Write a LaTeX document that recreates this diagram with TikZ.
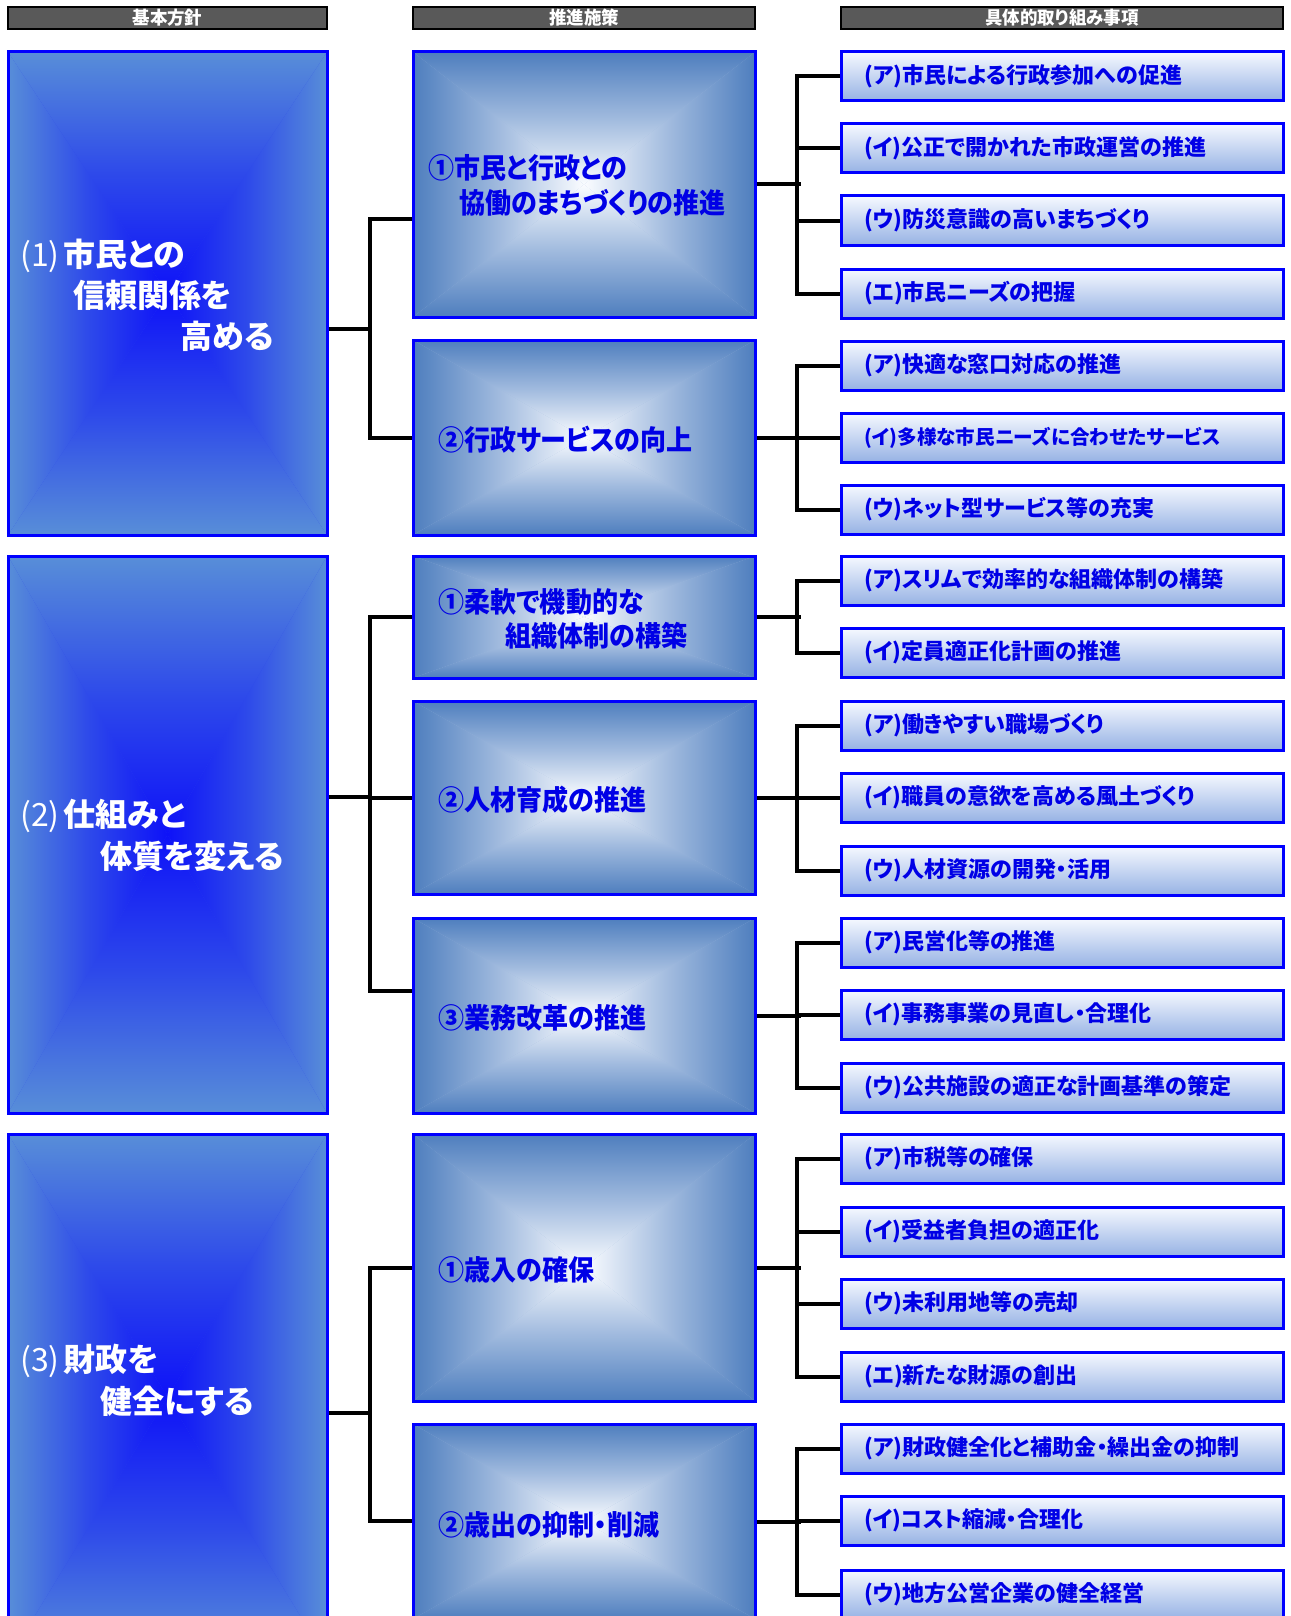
\documentclass[tikz,border=0pt]{standalone}
\usepackage{fontspec}
\setmainfont{Noto Sans CJK JP}[RawFeature=+palt]
\newfontfamily\jpmid{Noto Sans CJK JP}[RawFeature=+palt, FakeStretch=0.93]
\newfontfamily\jphead{Noto Sans CJK JP}[RawFeature=+palt, FakeStretch=0.97]
\usetikzlibrary{fit}
\definecolor{lE}{RGB}{88,142,216}
\definecolor{lM}{RGB}{46,74,234}
\definecolor{lC}{RGB}{14,18,248}
\definecolor{mE}{RGB}{78,126,190}
\definecolor{mM}{RGB}{160,186,222}
\definecolor{mC}{RGB}{250,252,255}
\definecolor{rT}{RGB}{246,249,255}
\definecolor{rB}{RGB}{150,178,228}
\definecolor{bdr}{RGB}{0,0,255}
\definecolor{txb}{RGB}{0,0,230}
\definecolor{hdr}{RGB}{89,89,89}
\newcommand\pgradbox[8]{%
  \fill[#7] (#2,#3) rectangle (#4,#5);
  \coordinate (#1-c) at ({(#2+#4)/2},{(#3+#5)/2});
  \shade[top color=#6,bottom color=#8,middle color=#7] (#2,#3) -- (#4,#3) -- (#1-c) -- cycle;
  \shade[top color=#8,bottom color=#6,middle color=#7] (#2,#5) -- (#4,#5) -- (#1-c) -- cycle;
  \shade[left color=#6,right color=#8,middle color=#7] (#2,#3) -- (#2,#5) -- (#1-c) -- cycle;
  \shade[left color=#8,right color=#6,middle color=#7] (#4,#3) -- (#4,#5) -- (#1-c) -- cycle;
  \node[draw=bdr, line width=3pt, inner sep=0pt, fit={(#2,#3) (#4,#5)}] (#1) {};
}
\begin{document}
\begin{tikzpicture}[x=1pt,y=-1pt,
  conn/.style={line width=4pt, black, line join=miter},
  hbar/.style={draw=black, line width=2.5pt, fill=hdr, inner sep=0pt},
  htext/.style={text=white, font=\jphead\fontsize{18}{18}\selectfont\bfseries, inner sep=0pt},
  rbox/.style={draw=bdr, line width=3pt, top color=rT, bottom color=rB, inner sep=0pt},
  ltext/.style={text=white, font=\fontsize{32}{32}\selectfont\bfseries, anchor=west, inner sep=0pt},
  mtext/.style={text=txb, font=\jpmid\fontsize{28}{28}\selectfont\bfseries, anchor=west, inner sep=0pt},
  rtext/.style={text=txb, font=\fontsize{22}{22}\selectfont\bfseries, anchor=west, inner sep=0pt}]
\useasboundingbox (0,0) rectangle (1290,1616);
\clip (0,0) rectangle (1290,1616);
\fill[white] (0,0) rectangle (1290,1616);

% headers
\node[hbar, fit={(8,7) (327,29)}] (H1) {};
\node[hbar, fit={(413,7) (755,29)}] (H2) {};
\node[hbar, fit={(841,7) (1283,29)}] (H3) {};
\node[htext] (h1t) at (H1.center) {基本方針};
\node[htext] (h2t) at (H2.center) {推進施策};
\node[htext] (h3t) at (H3.center) {具体的取り組み事項};

% left boxes
\pgradbox{L1}{8}{52}{327}{535}{lE}{lM}{lC}
\pgradbox{L2}{8}{556}{327}{1113}{lE}{lM}{lC}
\pgradbox{L3}{8}{1134}{327}{1660}{lE}{lM}{lC}

% middle boxes
\pgradbox{A1}{413}{52}{755}{317}{mE}{mM}{mC}
\pgradbox{A2}{413}{340}{755}{535}{mE}{mM}{mC}
\pgradbox{B1}{413}{556}{755}{678}{mE}{mM}{mC}
\pgradbox{B2}{413}{701}{755}{894}{mE}{mM}{mC}
\pgradbox{B3}{413}{918}{755}{1113}{mE}{mM}{mC}
\pgradbox{C1}{413}{1134}{755}{1401}{mE}{mM}{mC}
\pgradbox{C2}{413}{1424}{755}{1619}{mE}{mM}{mC}

% right boxes
\foreach \t/\s [count=\i] in {
  52/{(ア)市民による行政参加への促進},
  124/{(イ)公正で開かれた市政運営の推進},
  196/{(ウ)防災意識の高いまちづくり},
  269/{(エ)市民ニーズの把握},
  341/{(ア)快適な窓口対応の推進},
  413/{{\fontsize{19.6}{19.6}\selectfont(イ)多様な市民ニーズに合わせたサービス}},
  485/{(ウ)ネット型サービス等の充実},
  556/{(ア)スリムで効率的な組織体制の構築},
  628/{(イ)定員適正化計画の推進},
  701/{(ア)働きやすい職場づくり},
  773/{(イ)職員の意欲を高める風土づくり},
  846/{(ウ)人材資源の開発・活用},
  918/{(ア)民営化等の推進},
  990/{(イ)事務事業の見直し・合理化},
  1063/{(ウ)公共施設の適正な計画基準の策定},
  1134/{(ア)市税等の確保},
  1207/{(イ)受益者負担の適正化},
  1279/{(ウ)未利用地等の売却},
  1352/{(エ)新たな財源の創出},
  1424/{(ア)財政健全化と補助金・繰出金の抑制},
  1496/{(イ)コスト縮減・合理化},
  1570/{(ウ)地方公営企業の健全経営}} {
  \node[rbox, fit={(841,\t) (1283,\t+49)}] (R\i) {};
  \node[rtext] (tR\i) at (864,\t+24.5) {\s};
}

% left connectors
\coordinate (jL1) at (370,329);
\coordinate (yA1) at (0,219);
\draw[conn] (L1.east |- jL1) -- (jL1);
\draw[conn] (A1.west |- yA1) -| (jL1) |- (A2.west);
\coordinate (jL2) at (370,797);
\coordinate (yB3) at (0,991);
\draw[conn] (L2.east |- jL2) -- (jL2);
\draw[conn] (B1.west) -| (jL2) |- (B3.west |- yB3);
\draw[conn] (B2.west) -- (B2.west -| jL2);
\coordinate (jL3) at (370,1413);
\coordinate (yC2) at (0,1521);
\draw[conn] (L3.east |- jL3) -- (jL3);
\draw[conn] (C1.west) -| (jL3) |- (C2.west |- yC2);

% right connectors
\coordinate (vx) at (797,0);
\coordinate (vx2) at (801,0);
\newcommand\rgrp[4]{%
  \draw[conn] (#1.east) -- (#1.east -| vx2);
  \draw[conn] (#2.west) -| (vx |- #3.west) -- (#3.west);
  \foreach \m in {#4} {\draw[conn] (\m.west) -- (\m.west -| vx);}}
\rgrp{A1}{R1}{R4}{R2,R3}
\rgrp{A2}{R5}{R7}{R6}
\draw[conn] (B1.east) -- (B1.east -| vx2);
\draw[conn] (R8.west) -| (vx |- R9.west) -- (R9.west);
\rgrp{B2}{R10}{R12}{R11}
\rgrp{B3}{R13}{R15}{R14}
\rgrp{C1}{R16}{R19}{R17,R18}
\rgrp{C2}{R20}{R22}{R21}

% left texts
\node[ltext] (t1a) at (20,256) {{\mdseries(1)}\hspace{4pt}市民との};
\node[ltext] (t1b) at (73,295) {信頼関係を};
\node[ltext] (t1c) at (180,336) {高める};
\node[ltext] (t2a) at (20,816) {{\mdseries(2)}\hspace{4pt}仕組みと};
\node[ltext] (t2b) at (100,856) {体質を変える};
\node[ltext] (t3a) at (20,1361) {{\mdseries(3)}\hspace{4pt}財政を};
\node[ltext] (t3b) at (100,1401) {健全にする};

% middle texts
\node[mtext] (tA1a) at (428,168) {①市民と行政との};
\node[mtext] (tA1b) at (459,203) {協働のまちづくりの推進};
\node[mtext] (tA2) at (438,440) {②行政サービスの向上};
\node[mtext] (tB1a) at (438,602) {①柔軟で機動的な};
\node[mtext] (tB1b) at (505,636) {組織体制の構築};
\node[mtext] (tB2) at (438,800) {②人材育成の推進};
\node[mtext] (tB3) at (438,1018) {③業務改革の推進};
\node[mtext] (tC1) at (438,1270) {①歳入の確保};
\node[mtext] (tC2) at (438,1525) {②歳出の抑制・削減};
\end{tikzpicture}
\end{document}
